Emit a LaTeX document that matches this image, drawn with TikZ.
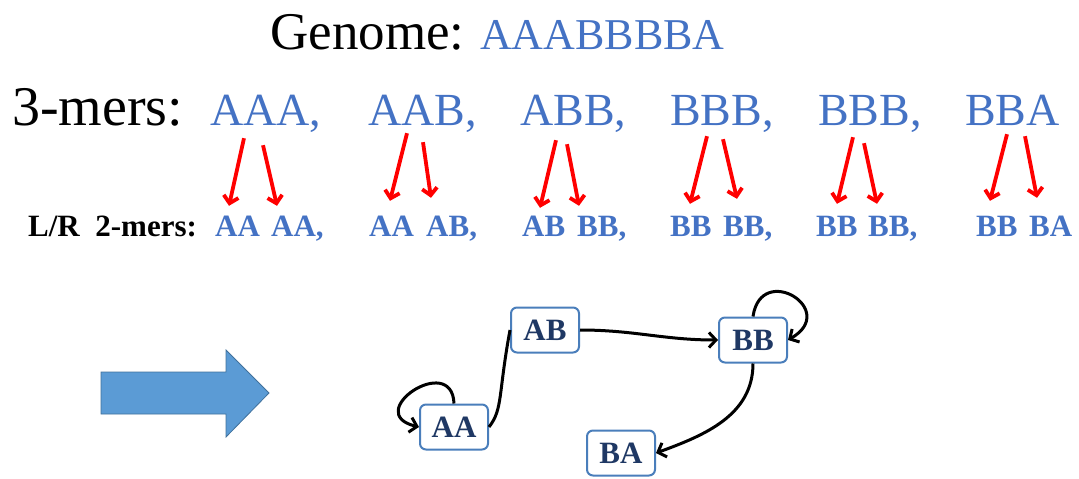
\documentclass[tikz,border=0pt]{standalone}
\usepackage{fontspec}
\setmainfont{Liberation Serif}
\usetikzlibrary{arrows.meta}
\definecolor{kblue}{HTML}{4472C4}
\definecolor{navy}{HTML}{1F3864}
\definecolor{boxblue}{HTML}{4A7EBB}
\definecolor{fatfill}{HTML}{5B9BD5}
\definecolor{fatline}{HTML}{41719C}
\tikzset{
	title/.style={anchor=base west, inner sep=0pt, font=\fontsize{53}{60}\selectfont},
	kmer/.style={anchor=base west, inner sep=0pt, text depth=0pt, text=kblue, font=\fontsize{46}{54}\selectfont},
	lrmer/.style={anchor=base west, inner sep=0pt, text height=22pt, text=kblue, font=\bfseries\fontsize{31}{36}\selectfont},
	splitarrow/.style={red, line width=3.8pt, -{Straight Barb[length=7pt,width=15pt]}},
	vertex/.style={draw=boxblue, line width=2pt, rounded corners=6pt, fill=white, minimum width=68pt, minimum height=45pt, inner sep=0pt, text=navy, font=\bfseries\fontsize{31}{36}\selectfont},
	edge/.style={line width=3pt, -{Straight Barb[length=7pt,width=15pt]}}
}
\begin{document}
\begin{tikzpicture}[x=1pt, y=1pt]
	\useasboundingbox (0, 0) rectangle (1079, -479);
	% Genome and 3-mers:
	\node[title] (genome) at (270, -49) {Genome:};
	\node[title, text=kblue, font=\fontsize{44}{52}\selectfont] (seq) at (480, -49) {AAABBBBA};
	\node[title, font=\fontsize{56}{62}\selectfont] (threelbl) at (12, -125) {3-mers:};
	\node[kmer] (k1) at (210, -125) {AAA,};
	\node[kmer] (k2) at (368, -125) {AAB,};
	\node[kmer] (k3) at (520, -125) {ABB,};
	\node[kmer] (k4) at (670, -125) {BBB,};
	\node[kmer] (k5) at (818, -125) {BBB,};
	\node[kmer] (k6) at (965, -125) {BBA};
	% Left and right 2-mers:
	\node[lrmer, text=black] (twolbl) at (28, -236) {L/R\ \ 2-mers:};
	\node[lrmer] (l1) at (215, -236) {AA};
	\node[lrmer] (r1) at (271, -236) {AA,};
	\node[lrmer] (l2) at (369, -236) {AA};
	\node[lrmer] (r2) at (426, -236) {AB,};
	\node[lrmer] (l3) at (522, -236) {AB};
	\node[lrmer] (r3) at (577, -236) {BB,};
	\node[lrmer] (l4) at (670, -236) {BB};
	\node[lrmer] (r4) at (723, -236) {BB,};
	\node[lrmer] (l5) at (816, -236) {BB};
	\node[lrmer] (r5) at (868, -236) {BB,};
	\node[lrmer] (l6) at (976, -236) {BB};
	\node[lrmer] (r6) at (1029, -236) {BA};
	\foreach \k/\sx/\sy/\t/\tx/\ty in {k1/34/13/l1/14/8, k1/53/20/r1/6/8,
		k2/39/8/l2/21/13, k2/55/17/r2/5/16, k3/36/15/l3/18/6, k3/47/19/r3/2/8,
		k4/37/11/l4/20/10, k4/53/14/r4/14/15, k5/35/12/l5/21/10, k5/46/18/r5/9/10,
		k6/42/9/l6/14/13, k6/60/11/r6/8/16}
		\draw[splitarrow] ([shift={(\sx,-\sy)}]\k.south west) -- ([shift={(\tx,\ty)}]\t.north west);
	% Big arrow:
	\filldraw[fill=fatfill, draw=fatline, line width=0.8pt] (101, -372) -- (226, -372) -- (226, -350) -- (269, -393) -- (226, -437) -- (226, -414) -- (101, -414) -- cycle;
	% de Bruijn graph:
	\node[vertex] (aa) at (454, -427) {AA};
	\node[vertex] (ab) at (545, -330) {AB};
	\node[vertex] (bb) at (753, -340) {BB};
	\node[vertex] (ba) at (621, -453) {BA};
	\draw[edge] (aa.north) .. controls +(-2, 52) and +(-58, 14) .. (aa.west);
	\draw[line width=3pt] (aa.east) .. controls +(14, 18) and +(-12, -65) .. (ab.west);
	\draw[edge] (ab.east) to[out=0, in=180] (bb.west);
	\draw[edge] (bb.north) .. controls +(8, 55) and +(52, 30) .. (bb.east);
	\draw[edge] (bb.south) to[out=-90, in=20] (ba.east);
\end{tikzpicture}
\end{document}
